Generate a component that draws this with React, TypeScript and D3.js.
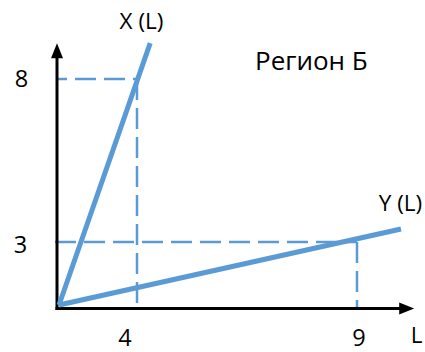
import React from "react";
import * as d3 from "d3";

// Schematic (non-uniform) axes: tick values and their spots along each axis
const xTicks = [0, 4, 9];
const yTicks = [0, 3, 8];
const tickLabelsX = ["4", "9"];
const tickLabelsY = ["8", "3"];
const xAxisEnd = 10.3;
const yAxisEnd = 9.1;

// Lines: from origin through the marked point, extended to the end point
const seriesX = { name: "X (L)", points: [[0, 0], [4.3, 9.1]] as [number, number][] };
const seriesY = { name: "Y (L)", points: [[0, 0], [10, 3.4]] as [number, number][] };
// Guide points
const guides: [number, number][] = [[4, 8], [9, 3]];
const title = "Регион Б";
const axisLabel = "L";

const W = 425;
const H = 352;
const BLUE = "#5B9BD5";
const FONT = "'Open Sans', Lato, sans-serif";

export default function App() {
  const x = d3.scaleLinear().domain(xTicks).range([59, 137, 357]);
  const y = d3.scaleLinear().domain(yTicks).range([305, 242, 79]);
  const line = d3.line<[number, number]>().x((d) => x(d[0])).y((d) => y(d[1]));

  const axX = x(0) - 2; // vertical axis position
  const axY = y(0) + 3.5; // horizontal axis position
  const xTip = x(xAxisEnd);
  const yTip = y(yAxisEnd);

  return (
    <svg
      width={W}
      height={H}
      style={{ position: "absolute", left: 0, top: 0, background: "#fff" }}
      fontFamily={FONT}
    >
      {/* dashed guides */}
      <g stroke={BLUE} strokeWidth={2.5} fill="none" strokeDasharray="21 8">
        {guides.map(([gx, gy], i) => (
          <g key={i}>
            <line
              x1={i === 0 ? axX : axX - 2}
              x2={x(gx)}
              y1={y(gy)}
              y2={y(gy)}
              strokeDashoffset={i === 0 ? 11 : 0}
            />
            <line x1={x(gx)} x2={x(gx)} y1={y(gy)} y2={axY} />
          </g>
        ))}
      </g>

      {/* axes */}
      <g stroke="#000" strokeWidth={3}>
        <line x1={axX} x2={axX} y1={axY + 1.5} y2={yTip + 12} />
        <line x1={axX - 1.5} x2={xTip - 12} y1={axY} y2={axY} />
      </g>
      <path d={`M${axX},${yTip} L${axX - 6},${yTip + 15} L${axX + 6},${yTip + 15} Z`} fill="#000" />
      <path d={`M${xTip},${axY} L${xTip - 15},${axY - 6} L${xTip - 15},${axY + 6} Z`} fill="#000" />

      {/* series lines */}
      <g stroke={BLUE} strokeWidth={5} fill="none" strokeLinecap="butt">
        <path d={line(seriesX.points) ?? ""} />
        <path d={line(seriesY.points) ?? ""} />
      </g>

      {/* labels */}
      <g fontSize={23.5} fill="#000" textAnchor="middle">
        <text x={x(guides[0][0]) - 12} y={345.5}>{tickLabelsX[0]}</text>
        <text x={x(guides[1][0]) + 2} y={345.5}>{tickLabelsX[1]}</text>
        <text x={21.5} y={y(guides[0][1]) + 8}>{tickLabelsY[0]}</text>
        <text x={20.5} y={y(guides[1][1]) + 11}>{tickLabelsY[1]}</text>
      </g>
      <g fontSize={22.5} fill="#000" textAnchor="middle">
        <text x={141.5} y={29}>{seriesX.name}</text>
        <text x={400.5} y={211}>{seriesY.name}</text>
        <text x={416.5} y={343}>{axisLabel}</text>
      </g>
      <text x={255} y={70} fontSize={26} fill="#000">{title}</text>
    </svg>
  );
}
